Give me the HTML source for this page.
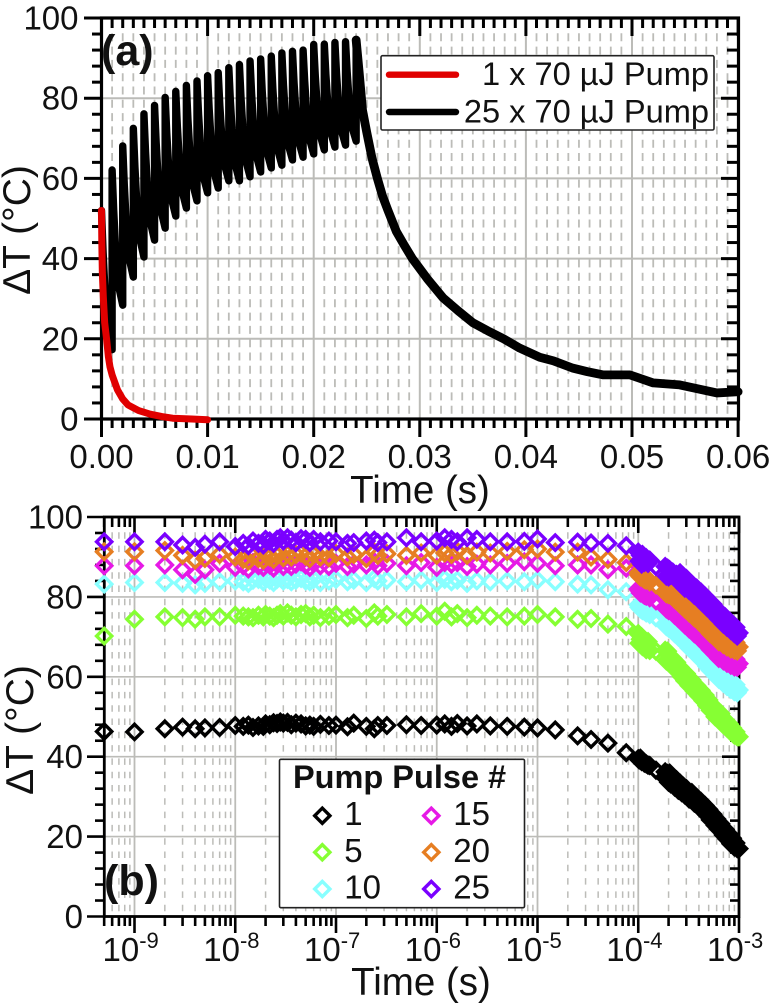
<!DOCTYPE html>
<html lang="en">
<head>
<meta charset="utf-8">
<title>Temperature rise vs time</title>
<style>
html,body{margin:0;padding:0;background:#fff;width:774px;height:1007px;overflow:hidden}
svg{display:block}
text{font-family:"Liberation Sans",sans-serif;fill:#111}
</style>
</head>
<body>
<svg id="chart" xmlns="http://www.w3.org/2000/svg" width="774" height="1007" viewBox="0 0 774 1007"></svg>
<script>
/* ---------- Panel (a) data ---------- */
const aXTickLabels = ["0.00","0.01","0.02","0.03","0.04","0.05","0.06"];
const aXTickValues = [0,0.01,0.02,0.03,0.04,0.05,0.06];
const yTickValues = [0,20,40,60,80,100];
const yTickLabels = ["0","20","40","60","80","100"];
const singlePulseTimes = [0,0.00003,0.00008,0.00017,0.0003,0.00049,0.00065,0.0008,0.001,0.00127,0.0015,0.002,0.0025,0.0035,0.0046,0.0057,0.0067,0.0085,0.01];
const singlePulseValues = [52,44,36.4,30.5,24,19.7,15.5,13,11,9,7.3,5,3.5,2.1,1.2,0.6,0.2,0,-0.2];
const trainStartValue = 52;
const trainPulseTimes = [0.001,0.002,0.003,0.004,0.005,0.006,0.007,0.008,0.009,0.010,0.011,0.012,0.013,0.014,0.015,0.016,0.017,0.018,0.019,0.020,0.021,0.022,0.023,0.024];
const trainPeaks = [62.1,68.1,72.5,76.1,78.2,80.2,81.7,83.2,84.3,85.6,86.4,87.6,88.4,89.3,89.8,90.5,91.3,91.7,92,93.4,93.5,93.9,94.1,94.5];
const trainTroughs = [17.3,28.4,35.4,40.4,44.6,47.6,50.6,52.6,54.4,56.4,57.6,59.4,59.4,60.4,61.6,62.6,63.3,64.6,65.3,66.1,67.1,67.8,68.3,69.3];
const decayShapeTime = [0.15,0.34,0.67];
const decayShapeDrop = [0.3,0.6,0.88];
const tailTimes = [0.024,0.0243,0.0246,0.025,0.0255,0.026,0.0265,0.027,0.0278,0.0285,0.0293,0.0307,0.0322,0.0336,0.035,0.0364,0.0379,0.0394,0.0413,0.0426,0.0444,0.0458,0.0473,0.0498,0.052,0.0545,0.058,0.06];
const tailValues = [94.5,86,77,71.5,65,60,55.5,52,46.7,43.5,40,35,30.2,27,24,22,20,17.7,15.4,14.5,12.7,11.8,11,11,9,8.5,6.5,6.8];

/* ---------- Panel (b) data ---------- */
const bXDecadeExponents = [-9,-8,-7,-6,-5,-4,-3];
const plateauTimes = [5e-10,1e-9,2e-9,3e-9,4e-9,5e-9,7e-9,1e-8,1.2e-8,1.35e-8,1.5e-8,1.7e-8,1.9e-8,2e-8,2.2e-8,2.4e-8,2.6e-8,2.8e-8,3e-8,3.3e-8,3.6e-8,4e-8,4.5e-8,5e-8,5.5e-8,6e-8,7e-8,8.5e-8,1e-7,1.3e-7,1.5e-7,2e-7,2.4e-7,2.6e-7,3.2e-7,5e-7,7e-7,1e-6,1.2e-6,1.4e-6,1.6e-6,2e-6,2.5e-6,3.4e-6,5e-6,7.4e-6,1e-5,1.5e-5,2.5e-5,3.4e-5,5e-5,7.6e-5];
const coolingTimes = [1e-4,1.02e-4,1.05e-4,1.08e-4,1.1e-4,1.15e-4,1.2e-4,1.25e-4,1.3e-4,1.5e-4,1.85e-4,1.9e-4,1.95e-4,2e-4,2.05e-4,2.1e-4,2.2e-4,2.3e-4,2.4e-4,2.5e-4,2.6e-4,2.7e-4,2.8e-4,2.9e-4,3e-4,3.2e-4,3.4e-4,3.6e-4,3.8e-4,4e-4,4.2e-4,4.4e-4,4.6e-4,4.8e-4,5e-4,5.2e-4,5.5e-4,5.8e-4,6e-4,6.3e-4,6.6e-4,7e-4,7.3e-4,7.6e-4,8e-4,8.3e-4,8.6e-4,9e-4,9.3e-4,9.6e-4,1e-3];

const pulse1Plateau = [46.3,46.2,47.0,47.4,47.0,47.2,47.3,47.8,47.6,47.9,47.3,47.7,47.6,48.2,48.0,48.5,48.3,48.7,48.4,48.6,48.0,48.4,48.2,47.7,47.9,47.6,48.1,47.8,47.9,47.5,48.4,47.6,47.0,47.8,47.8,48.0,47.8,47.9,48.2,47.6,48.3,47.7,48.2,47.7,47.6,47.4,47.2,46.7,45.2,44.3,43.4,41.0];
const pulse5Plateau = [70.2,74.4,75.0,74.8,74.4,75.0,75.0,75.4,75.2,75.0,74.8,75.4,75.0,75.6,75.2,74.8,75.4,75.8,75.2,76.0,75.4,75.0,75.6,75.8,75.0,75.4,74.8,75.2,75.6,74.8,75.4,74.6,76.0,75.2,75.6,75.0,75.8,75.2,76.4,75.0,75.8,74.8,75.4,75.2,75.0,75.2,75.6,75.0,74.4,74.6,73.2,72.6];
const pulse10Plateau = [83.2,83.6,83.6,83.4,83.0,83.4,83.8,84.0,83.8,83.4,84.2,84.4,83.8,84.6,84.2,83.6,84.4,84.8,84.0,84.4,83.8,84.2,84.6,84.0,83.8,84.4,83.6,84.0,84.4,83.8,84.2,83.6,84.6,84.0,84.2,83.8,84.2,83.6,84.4,83.8,84.2,83.4,84.0,83.8,84.0,83.8,84.2,83.8,83.2,83.0,81.8,81.3];
const pulse15Plateau = [87.8,87.8,88.0,86.8,85.6,86.8,88.4,87.4,87.8,87.0,88.6,87.8,87.4,88.6,88.0,87.2,88.2,88.8,87.6,88.4,87.6,88.2,88.8,88.0,87.4,88.4,87.8,87.6,88.4,87.6,88.2,88.0,88.8,87.8,88.4,87.8,88.6,87.4,88.6,88.2,88.6,87.6,88.2,88.0,88.4,88.8,88.4,87.8,88.0,88.0,86.8,87.2];
const pulse20Plateau = [91.3,91.3,91.6,90.4,89.2,89.6,90.6,90.0,89.4,89.0,90.2,89.6,89.2,90.6,90.0,89.4,90.4,91.0,89.8,90.8,90.0,90.6,91.0,90.2,89.6,90.6,90.0,89.8,90.8,90.0,90.6,89.6,91.2,90.4,90.8,90.4,91.0,90.4,91.0,90.6,91.4,90.4,91.2,91.0,91.4,91.8,92.0,91.2,91.2,90.0,89.4,88.6];
const pulse25Plateau = [93.8,93.8,93.8,93.0,92.4,93.2,93.8,92.6,93.4,92.8,94.0,93.4,93.0,94.4,94.0,93.4,94.4,94.8,94.0,94.8,94.2,93.6,94.6,94.4,93.6,94.4,93.8,94.0,93.8,93.4,93.6,94.0,94.2,93.6,93.8,94.8,93.8,94.0,94.8,94.4,93.8,94.8,94.4,93.8,93.8,93.9,94.5,93.6,93.7,93.5,93.4,92.8];

const pulse1Cooling = [39.5,39.2,39.6,38.8,39.0,38.4,38.2,37.9,37.8,36.6,36.2,34.4,35.8,33.6,35.9,33.2,34.8,32.4,34.2,31.6,33.4,31.0,32.6,30.4,32.0,29.4,31.0,28.4,29.8,27.4,28.8,26.4,27.8,25.4,26.8,24.2,25.6,22.8,24.4,21.8,23.2,20.4,21.8,19.4,20.6,18.2,19.6,17.4,18.4,17.0,17.0];
const pulse5Cooling = [70.8,68.4,69.4,70.0,67.6,68.8,66.8,68.8,66.6,66.4,66.6,64.0,66.4,63.6,65.2,63.6,64.6,62.0,63.6,61.2,62.4,60.0,61.4,59.0,60.8,57.8,59.2,56.4,57.8,55.2,56.6,54.0,55.4,52.8,54.2,51.6,52.8,50.0,51.6,49.2,50.8,48.0,49.2,47.2,48.2,46.2,47.2,45.4,46.2,45.0,45.0];
const pulse10Cooling = [78.0,77.4,77.0,77.6,76.6,76.4,76.0,76.2,75.6,74.8,75.0,72.6,74.8,72.2,73.8,72.0,73.2,70.8,72.4,70.0,71.6,69.2,70.8,68.4,70.0,67.2,68.6,66.0,67.4,64.8,66.2,63.8,65.2,62.6,64.2,61.6,63.0,60.4,62.0,59.4,61.0,58.4,59.9,57.6,59.2,56.9,58.6,56.3,58.0,56.0,56.7];
const pulse15Cooling = [82.0,81.6,81.0,81.6,80.8,80.4,80.2,80.4,79.8,79.0,79.4,77.0,79.2,76.6,78.4,76.6,77.8,75.4,77.0,74.6,76.2,73.8,75.4,73.0,74.6,72.0,73.4,70.8,72.2,69.8,71.2,68.8,70.2,67.8,69.2,66.8,68.2,65.6,67.2,64.6,66.4,64.0,65.7,63.4,65.1,62.9,64.7,62.5,64.4,62.4,63.3];
const pulse20Cooling = [86.0,85.4,85.0,85.6,84.8,84.4,84.2,84.4,83.8,83.0,83.2,80.8,83.0,80.6,82.2,80.4,81.8,79.4,81.0,78.6,80.2,77.8,79.4,77.0,78.6,76.0,77.4,74.8,76.4,73.8,75.4,72.8,74.4,71.8,73.4,70.8,72.4,69.8,71.4,68.8,70.4,68.1,69.8,67.5,69.2,67.0,68.9,66.7,68.6,66.5,67.5];
const pulse25Cooling = [91.2,89.0,90.4,88.2,90.6,88.6,89.8,88.4,89.2,87.6,87.6,85.2,87.2,85.0,86.8,85.4,86.2,84.8,85.6,84.4,86.0,83.0,85.2,82.2,84.6,81.6,83.2,80.4,82.2,79.4,81.2,78.4,80.2,77.4,79.2,76.6,78.2,75.4,77.0,74.4,76.0,73.2,75.0,72.4,74.0,71.6,73.2,70.8,72.4,70.2,71.0];

const pulseLabels = ["1","5","10","15","20","25"];
const pulseColors = ["#000000","#86ff33","#88ffff","#e619e6","#e67e22","#7a00ff"];
const pulsePlateaus = [pulse1Plateau,pulse5Plateau,pulse10Plateau,pulse15Plateau,pulse20Plateau,pulse25Plateau];
const pulseCoolings = [pulse1Cooling,pulse5Cooling,pulse10Cooling,pulse15Cooling,pulse20Cooling,pulse25Cooling];

/* ---------- Scales ---------- */
const GRID = "#bcbcb8";
const ax = t => 101.5 + t * 10610;
const ay = v => 419 - v * 4.01;
const bx = t => 739 + (Math.log10(t) + 3) * 100.75;
const by = v => 916.5 - v * 3.995;

const svg = document.getElementById("chart");
const NS = "http://www.w3.org/2000/svg";
function make(parent, tag, attrs, text) {
  const el = document.createElementNS(NS, tag);
  for (const k in attrs) el.setAttribute(k, attrs[k]);
  if (text !== undefined) el.textContent = text;
  parent.appendChild(el);
  return el;
}
function group(parent, name) {
  const g = make(parent, "g", {});
  
  
  return g;
}
function seg(g, x1, y1, x2, y2, color, w, dash) {
  const a = {x1:x1, y1:y1, x2:x2, y2:y2, stroke:color, "stroke-width":w};
  if (dash) a["stroke-dasharray"] = dash;
  return make(g, "line", a);
}
function diamond(parent, cx, cy, color, name, solid) {
  const r = 7.6;
  const p = make(parent, "polygon", {
    points: (cx-r)+","+cy+" "+cx+","+(cy-r)+" "+(cx+r)+","+cy+" "+cx+","+(cy+r),
    fill: solid ? color : "none", stroke: color, "stroke-width": 3.4
  });
  
  
  return p;
}
function label(parent, x, y, str, size, anchor, weight, name) {
  const t = make(parent, "text", {x:x, y:y, "font-size":size, "text-anchor":anchor, "font-weight":weight}, str);
  
  
  return t;
}

/* ========== PANEL A ========== */
const panelA = group(svg, "panel-a");
const aGrid = group(panelA, "panel-a-gridlines");
for (let i = 1; i < 60; i++) {
  const t = i / 1000;
  if (i % 10 === 0) continue;
  seg(aGrid, ax(t), 20, ax(t), 418, GRID, 1.8, "8 5.3");
}
aXTickValues.slice(1, -1).forEach(t => seg(aGrid, ax(t), 19, ax(t), 418, GRID, 2));
yTickValues.slice(1, -1).forEach(v => seg(aGrid, 102, ay(v), 738, ay(v), GRID, 2));

const aAxes = group(panelA, "panel-a-axes");
for (let i = 0; i <= 60; i++) {
  const x = ax(i / 1000);
  const major = i % 10 === 0;
  seg(aAxes, x, 419, x, major ? 437 : 428, "#000", 3);
  seg(aAxes, x, 18, x, major ? 36 : 28, "#000", 3);
}
for (let v = 0; v <= 100; v += 4) {
  if (v % 20 === 0) continue;
  seg(aAxes, 101, ay(v), 92, ay(v), "#000", 3);
  seg(aAxes, 738, ay(v), 727, ay(v), "#000", 3);
}
yTickValues.forEach(v => {
  seg(aAxes, 101, ay(v), 84, ay(v), "#000", 3);
  seg(aAxes, 738, ay(v), 721, ay(v), "#000", 3);
});
const aFrame = make(aAxes, "rect", {x:101.5, y:18, width:637, height:401, fill:"none", stroke:"#000", "stroke-width":3.2});



yTickValues.forEach((v, i) => {
  label(panelA, 78.5, ay(v) + 11.5, yTickLabels[i], 33, "end", "normal", "panel-a-y-tick-label");
});
aXTickValues.forEach((t, i) => {
  label(panelA, ax(t), 468, aXTickLabels[i], 33, "middle", "normal", "panel-a-x-tick-label");
});

/* black pulse-train trace */
let blackPts = [[ax(0), ay(trainStartValue)]];
let lastT = 0, lastV = trainStartValue;
trainPulseTimes.forEach((t, i) => {
  decayShapeTime.forEach((f, k) => {
    const tt = lastT + (t - lastT) * f;
    const vv = lastV - (lastV - trainTroughs[i]) * decayShapeDrop[k];
    blackPts.push([ax(tt), ay(vv)]);
  });
  blackPts.push([ax(t), ay(trainTroughs[i])]);
  blackPts.push([ax(t), ay(trainPeaks[i])]);
  lastT = t; lastV = trainPeaks[i];
});
const blackLine = make(panelA, "polyline", {
  points: blackPts.map(p => p[0].toFixed(2) + "," + p[1].toFixed(2)).join(" "),
  fill:"none", stroke:"#000", "stroke-width":7.4, "stroke-linejoin":"round", "stroke-linecap":"round"
});



const blackTail = make(panelA, "polyline", {
  points: tailTimes.map((t, i) => ax(t).toFixed(2) + "," + ay(tailValues[i]).toFixed(2)).join(" "),
  fill:"none", stroke:"#000", "stroke-width":8.8, "stroke-linejoin":"round", "stroke-linecap":"round"
});



const redLine = make(panelA, "polyline", {
  points: singlePulseTimes.map((t, i) => ax(t).toFixed(2) + "," + ay(singlePulseValues[i]).toFixed(2)).join(" "),
  fill:"none", stroke:"#e00000", "stroke-width":7, "stroke-linejoin":"round", "stroke-linecap":"round"
});



/* legend A */
const legA = group(panelA, "panel-a-legend");
make(legA, "rect", {x:381, y:55.7, width:333, height:74.3, rx:1.5, fill:"#fff", stroke:"#222", "stroke-width":1.6});
const lr = make(legA, "line", {x1:389, y1:74.7, x2:456, y2:74.7, stroke:"#e00000", "stroke-width":6.4, "stroke-linecap":"round"});


const lb = make(legA, "line", {x1:389, y1:112, x2:456, y2:112, stroke:"#000", "stroke-width":6.4, "stroke-linecap":"round"});


label(legA, 709, 85, "1 x 70 µJ Pump", 32.6, "end", "normal", "legend-label-single-pulse");
label(legA, 709, 122.7, "25 x 70 µJ Pump", 32.6, "end", "normal", "legend-label-pulse-train");

label(panelA, 101, 65, "(a)", 43, "start", "bold", "panel-a-letter");
label(panelA, 420, 503, "Time (s)", 38.5, "middle", "normal", "panel-a-x-axis-title");
const aYT = label(panelA, 0, 0, "ΔT (°C)", 39, "middle", "normal", "panel-a-y-axis-title");
aYT.setAttribute("transform", "translate(30,230) rotate(-90)");

/* ========== PANEL B ========== */
const panelB = group(svg, "panel-b");
const bGrid = group(panelB, "panel-b-gridlines");
const bMinorTicks = [];
for (let e = -10; e <= -4; e++) {
  for (let m = 2; m <= 9; m++) {
    const t = m * Math.pow(10, e);
    if (t >= 5e-10) bMinorTicks.push(t);
  }
}
bMinorTicks.forEach(t => {
  if (t > 5.1e-10) seg(bGrid, bx(t), 519, bx(t), 915, GRID, 1.5, "6.5 6.8");
});
bXDecadeExponents.slice(0, -1).forEach(e => {
  seg(bGrid, bx(Math.pow(10, e)), 518, bx(Math.pow(10, e)), 915, GRID, 1.8);
});
yTickValues.slice(1, -1).forEach(v => seg(bGrid, 105, by(v), 738, by(v), GRID, 1.6));

const bAxes = group(panelB, "panel-b-axes");
bMinorTicks.forEach(t => {
  seg(bAxes, bx(t), 917, bx(t), 926, "#000", 2.6);
  seg(bAxes, bx(t), 517, bx(t), 527, "#000", 2.6);
});
bXDecadeExponents.forEach(e => {
  const x = bx(Math.pow(10, e));
  seg(bAxes, x, 917, x, 933, "#000", 2.6);
  seg(bAxes, x, 517, x, 533, "#000", 2.6);
});
for (let v = 0; v <= 100; v += 4) {
  if (v % 20 === 0) continue;
  seg(bAxes, 104, by(v), 95, by(v), "#000", 2.6);
  seg(bAxes, 739, by(v), 730, by(v), "#000", 2.6);
}
yTickValues.forEach(v => {
  seg(bAxes, 104, by(v), 87, by(v), "#000", 2.6);
  seg(bAxes, 739, by(v), 722, by(v), "#000", 2.6);
});
const bFrame = make(bAxes, "rect", {x:104.3, y:517, width:634.7, height:399.5, fill:"none", stroke:"#000", "stroke-width":2.8});



yTickValues.forEach((v, i) => {
  label(panelB, 83, by(v) + 11.5, yTickLabels[i], 33, "end", "normal", "panel-b-y-tick-label");
});
bXDecadeExponents.forEach(e => {
  const x = bx(Math.pow(10, e));
  const t = label(panelB, x - 32, 961, "10", 33, "start", "normal", "panel-b-x-tick-label");
  const s = make(t, "tspan", {"font-size":22, dy:-13}, String(e));
  
  
});

/* diamond series: the densely overlapping cooling points merge into a solid band */
pulseLabels.forEach((name, si) => {
  const g = group(panelB, "series-pulse-" + name);
  plateauTimes.forEach((t, i) => {
    diamond(g, bx(t), by(pulsePlateaus[si][i]), pulseColors[si], "point-pulse-" + name, false);
  });
  coolingTimes.forEach((t, i) => {
    diamond(g, bx(t), by(pulseCoolings[si][i]), pulseColors[si], "point-pulse-" + name, i !== 9);
  });
});

/* legend B */
const legB = group(panelB, "panel-b-legend");
make(legB, "rect", {x:279.5, y:759.3, width:245, height:148.4, rx:1.5, fill:"#fff", stroke:"#222", "stroke-width":1.6});
label(legB, 293, 788, "Pump Pulse #", 32.5, "start", "bold", "legend-title");
const legendColX = [322.3, 322.3, 322.3, 431.3, 431.3, 431.3];
const legendRowY = [815.7, 852.3, 889, 815.7, 852.3, 889];
pulseLabels.forEach((name, i) => {
  diamond(legB, legendColX[i], legendRowY[i], pulseColors[i], "legend-marker-" + name, false);
  label(legB, legendColX[i] + 22, legendRowY[i] + 9.5, name, 33, "start", "normal", "legend-label-" + name);
});

label(panelB, 104, 895, "(b)", 43, "start", "bold", "panel-b-letter");
label(panelB, 421, 995, "Time (s)", 38.5, "middle", "normal", "panel-b-x-axis-title");
const bYT = label(panelB, 0, 0, "ΔT (°C)", 39, "middle", "normal", "panel-b-y-axis-title");
bYT.setAttribute("transform", "translate(33,730) rotate(-90)");
</script>
</body>
</html>
